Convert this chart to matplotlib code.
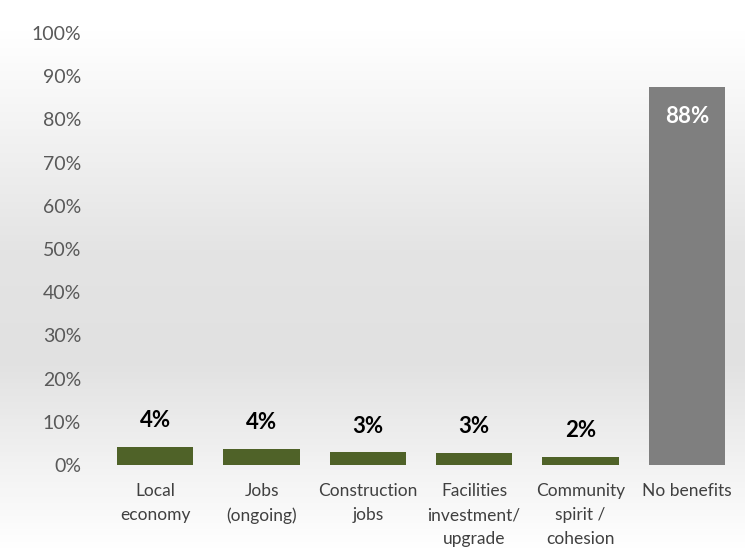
import matplotlib
matplotlib.use("Agg")
import matplotlib.pyplot as plt
import numpy as np
from matplotlib.colors import LinearSegmentedColormap

categories = ["Local\neconomy", "Jobs\n(ongoing)", "Construction\njobs",
              "Facilities\ninvestment/\nupgrade", "Community\nspirit /\ncohesion", "No benefits"]
values = [4.2, 3.8, 2.9, 2.8, 1.9, 87.6]
labels = ["4%", "4%", "3%", "3%", "2%", "88%"]
colors = ["#4F6228"] * 5 + ["#7F7F7F"]
yticks = list(range(0, 101, 10))
ytick_labels = [f"{t}%" for t in yticks]

plt.rcParams['font.family'] = ['Lato', 'DejaVu Sans']

W, H = 745, 551
fig = plt.figure(figsize=(W / 100, H / 100), dpi=100)

# background gradient
bg = fig.add_axes([0, 0, 1, 1], zorder=0)
bg.set_axis_off()
stops = [(0.0, "#ffffff"), (30 / H, "#ffffff"), (250 / H, "#e4e4e4"),
         (360 / H, "#e1e1e1"), (470 / H, "#f3f3f3"), (1.0, "#ffffff")]
cmap = LinearSegmentedColormap.from_list("bgc", stops)
grad = np.linspace(0, 1, 551).reshape(-1, 1)
bg.imshow(grad, aspect="auto", cmap=cmap, extent=[0, 1, 0, 1], origin="upper",
          vmin=0, vmax=1)
bg.set_xlim(0, 1)
bg.set_ylim(0, 1)

ax = fig.add_axes([102 / W, 1 - 465 / H, (740 - 102) / W, (465 - 33) / H], zorder=1)
ax.patch.set_alpha(0)
x = np.arange(len(categories))
bars = ax.bar(x, values, width=0.72, color=colors)
ax.set_xlim(-0.5, len(categories) - 0.5)
ax.set_ylim(0, 100)
ax.set_yticks(yticks)
ax.set_yticklabels(ytick_labels)
ax.set_xticks(x)
ax.set_xticklabels(categories, linespacing=1.62, va="top")
ax.tick_params(axis="y", length=0, pad=15, labelsize=14, labelcolor="#595959")
ax.tick_params(axis="x", length=0, pad=13, labelsize=12.5, labelcolor="#404040")
for s in ax.spines.values():
    s.set_visible(False)

for i, (v, lab) in enumerate(zip(values, labels)):
    if v > 50:
        ax.annotate(lab, (i, v), xytext=(0, -30), textcoords="offset pixels",
                    ha="center", va="center", color="white", fontsize=16, fontweight="bold")
    else:
        ax.annotate(lab, (i, v), xytext=(0, 26), textcoords="offset pixels",
                    ha="center", va="center", color="black", fontsize=16, fontweight="bold")

fig.savefig("out.png", dpi=100)
